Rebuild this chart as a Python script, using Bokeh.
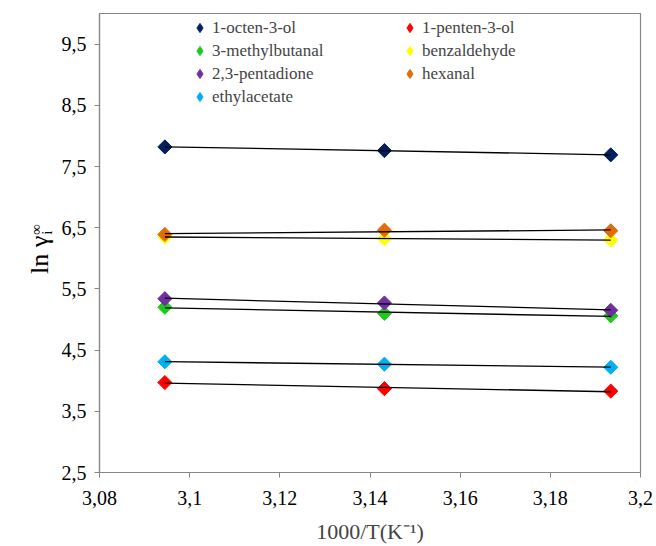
import numpy as np
from bokeh.plotting import figure
from bokeh.layouts import row
from bokeh.models import FixedTicker, Legend, LegendItem, Range1d, Div
from bokeh.embed import file_html
from bokeh.resources import INLINE

# ---- data ----
x_vals = [3.0945, 3.1432, 3.1934]
series_names = ["1-octen-3-ol", "1-penten-3-ol", "3-methylbutanal", "benzaldehyde",
                "2,3-pentadione", "hexanal", "ethylacetate"]
octenol = [7.82, 7.76, 7.69]
pentenol = [3.97, 3.87, 3.83]
methylbutanal = [5.20, 5.10, 5.06]
benzaldehyde = [6.35, 6.32, 6.30]
pentadione = [5.34, 5.27, 5.15]
hexanal = [6.39, 6.46, 6.45]
ethylacetate = [4.31, 4.27, 4.22]
series_values = [octenol, pentenol, methylbutanal, benzaldehyde, pentadione, hexanal, ethylacetate]
colors = ["#002060", "#FF0000", "#1ACC1A", "#FFFF00", "#7030A0", "#E36C09", "#00B0F0"]
x_ticks = [3.08, 3.10, 3.12, 3.14, 3.16, 3.18, 3.20]
x_tick_labels = ["3,08", "3,1", "3,12", "3,14", "3,16", "3,18", "3,2"]
y_ticks = [2.5, 3.5, 4.5, 5.5, 6.5, 7.5, 8.5, 9.5]
y_tick_labels = ["2,5", "3,5", "4,5", "5,5", "6,5", "7,5", "8,5", "9,5"]

FONT = "Liberation Serif"
GRAY = "#868686"
LW = 58  # width of the side block holding the y title

title_html = (
    '<div style="position:relative;width:%dpx;height:546px;">'
    '<div style="position:absolute;left:27px;top:274px;transform:rotate(-90deg);'
    'transform-origin:0 0;white-space:nowrap;font-family:\'Liberation Serif\',serif;'
    'font-size:26px;line-height:26px;color:black;">ln \u03b3'
    '<span style="display:inline-block;font-size:15px;line-height:11px;'
    'vertical-align:-4px;margin-left:1px;">\u221e<br>i</span></div></div>' % LW
)
ytitle = Div(text=title_html, width=LW, height=546, margin=0)

p = figure(width=656 - LW, height=546, output_backend="svg", toolbar_location=None,
           x_range=Range1d(3.08, 3.2), y_range=Range1d(2.5, 10.0),
           min_border_left=97 - LW, min_border_right=16, min_border_top=13,
           min_border_bottom=71)
p.xgrid.visible = False
p.ygrid.visible = False
p.outline_line_color = GRAY
p.outline_line_width = 1.2

for ax, ticks, labels in ((p.xaxis[0], x_ticks, x_tick_labels), (p.yaxis[0], y_ticks, y_tick_labels)):
    ax.ticker = FixedTicker(ticks=ticks)
    ax.major_label_overrides = {t_: l for t_, l in zip(ticks, labels)}
    ax.minor_tick_line_color = None
    ax.major_tick_in = 0
    ax.major_tick_out = 5
    ax.axis_line_color = GRAY
    ax.axis_line_width = 1.2
    ax.major_tick_line_color = GRAY

p.axis.major_label_text_font = FONT
p.axis.major_label_text_font_size = "20px"
p.axis.major_label_text_color = "black"
p.axis.major_label_text_font_style = "normal"

p.xaxis.axis_label = "1000/T(K\u207b\u00b9)"
p.xaxis.axis_label_text_font = FONT
p.xaxis.axis_label_text_font_size = "22px"
p.xaxis.axis_label_text_font_style = "normal"
p.xaxis.axis_label_standoff = 11
p.xaxis.major_label_standoff = 13
p.yaxis.major_label_standoff = 8

for name, vals, col in zip(series_names, series_values, colors):
    p.scatter(x_vals, vals, marker="square", size=10, angle=np.pi / 4,
              fill_color=col, line_color=col)

for vals in series_values:
    k, b = np.polyfit(x_vals, vals, 1)
    xs = [x_vals[0], x_vals[-1]]
    p.line(xs, [k * xv + b for xv in xs], line_color="black", line_width=1.3)

# legend swatches: hidden diamond renderers of the same series
swatches = [p.scatter(x_vals, vals, marker="diamond", fill_color=c, line_color=c, visible=False)
            for vals, c in zip(series_values, colors)]
items1 = [LegendItem(label=series_names[i], renderers=[swatches[i]]) for i in (0, 2, 4, 6)]
items2 = [LegendItem(label=series_names[i], renderers=[swatches[i]]) for i in (1, 3, 5)]
for items, loc in ((items1, (88, 364)), (items2, (298, 387))):
    lg = Legend(items=items, location=loc, padding=0, spacing=0, label_height=20,
                glyph_width=25, glyph_height=23, label_standoff=-2,
                label_text_font=FONT, label_text_font_size="17px", label_text_font_style="normal",
                inactive_fill_alpha=0, click_policy="none",
                border_line_alpha=0, background_fill_alpha=0, margin=0)
    p.add_layout(lg, "center")

open("out.html", "w").write(file_html(row(ytitle, p), INLINE))
